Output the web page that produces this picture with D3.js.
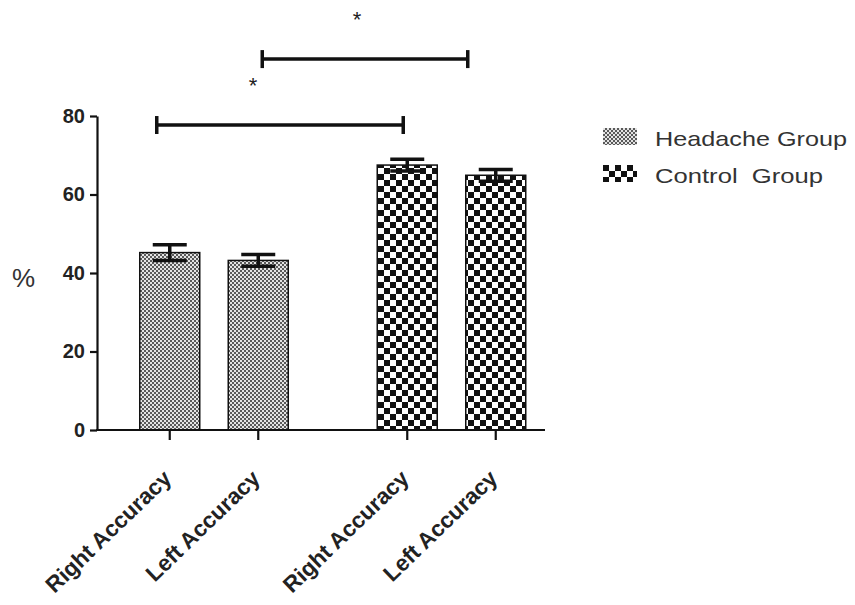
<!DOCTYPE html>
<html>
<head>
<meta charset="utf-8">
<script src="https://cdn.jsdelivr.net/npm/d3@7/dist/d3.min.js"></script>
<style>
  body { margin: 0; background: #fff; }
  text { font-family: "Liberation Sans", Arial, sans-serif; }
</style>
</head>
<body>
<script>
// data
var groups = ['Headache Group', 'Control  Group'];
var measures = ['Right Accuracy', 'Left Accuracy'];
var headacheMeans = [45.2, 43.2];
var headacheErrs = [2.0, 1.5];
var controlMeans = [67.5, 64.9];
var controlErrs = [1.5, 1.5];
var yTicks = [0, 20, 40, 60, 80];
// significance brackets: from bar index to bar index, height in % units
var brackets = [
    {from: 0, to: 2, level: 77.7, label: '*'},
    {from: 1, to: 3, level: 94.5, label: '*'}
];

var bars = [];
groups.forEach(function(g, gi) {
    var means = gi == 0 ? headacheMeans : controlMeans,
        errs = gi == 0 ? headacheErrs : controlErrs;
    measures.forEach(function(m, mi) {
        bars.push({group: g, gi: gi, measure: m, mean: means[mi], err: errs[mi]});
    });
});

var svg = d3.select('body').append('svg')
            .attr('width', 855).attr('height', 605);

var defs = svg.append('defs');
var p1 = defs.append('pattern').attr('id', 'pat0')
             .attr('patternUnits', 'userSpaceOnUse')
             .attr('width', 4).attr('height', 4);
p1.append('rect').attr('width', 4).attr('height', 4).attr('fill', '#5a5a5a');
p1.append('rect').attr('width', 2).attr('height', 2).attr('fill', '#e4e4e4');
p1.append('rect').attr('x', 2).attr('y', 2).attr('width', 2).attr('height', 2).attr('fill', '#e4e4e4');

var p2 = defs.append('pattern').attr('id', 'pat1')
             .attr('patternUnits', 'userSpaceOnUse')
             .attr('width', 12).attr('height', 12);
p2.append('rect').attr('width', 12).attr('height', 12).attr('fill', '#fff');
p2.append('rect').attr('width', 6).attr('height', 6).attr('fill', '#111');
p2.append('rect').attr('x', 6).attr('y', 6).attr('width', 6).attr('height', 6).attr('fill', '#111');

var plotLeft = 97, plotRight = 545;

var y = d3.scaleLinear().domain([0, 80]).range([430, 116]);

var x0 = d3.scaleBand().domain(groups).range([125.5, 540]).paddingInner(0.2547);
var x1 = d3.scaleBand().domain(measures).range([0, x0.bandwidth()])
           .paddingInner(0.322).paddingOuter(0.161);

function barX(d) { return x0(d.group) + x1(d.measure); }
function barC(d) { return barX(d) + x1.bandwidth() / 2; }

// bars
svg.selectAll('rect.bar').data(bars).enter().append('rect')
   .attr('class', 'bar')
   .attr('x', barX)
   .attr('y', function(d) { return y(d.mean); })
   .attr('width', x1.bandwidth())
   .attr('height', function(d) { return y(0) - y(d.mean); })
   .attr('fill', function(d) { return 'url(#pat' + d.gi + ')'; })
   .attr('stroke', '#111')
   .attr('stroke-width', 1.5);

// error bars
var eb = svg.selectAll('g.err').data(bars).enter().append('g')
            .attr('stroke', '#111').attr('stroke-width', 3.5);
eb.append('line')
  .attr('x1', barC).attr('x2', barC)
  .attr('y1', function(d) { return y(d.mean + d.err); })
  .attr('y2', function(d) { return y(d.mean - d.err); });
[1, -1].forEach(function(s) {
    eb.append('line')
      .attr('x1', function(d) { return barC(d) - 17; })
      .attr('x2', function(d) { return barC(d) + 17; })
      .attr('y1', function(d) { return y(d.mean + s * d.err); })
      .attr('y2', function(d) { return y(d.mean + s * d.err); });
});

// axes
var yAxis = d3.axisLeft(y).tickValues(yTicks).tickSize(7).tickPadding(5).tickSizeOuter(0);
var gy = svg.append('g').attr('transform', 'translate(' + plotLeft + ',0)').call(yAxis);
gy.select('.domain').attr('stroke', '#111').attr('stroke-width', 2.2);
gy.selectAll('.tick line').attr('stroke', '#111').attr('stroke-width', 2.2);
gy.selectAll('.tick text').attr('font-size', 20).attr('font-weight', 'bold')
  .attr('fill', '#222').attr('font-family', '"Liberation Sans", Arial, sans-serif');

svg.append('line').attr('x1', plotLeft - 1).attr('x2', plotRight)
   .attr('y1', y(0)).attr('y2', y(0))
   .attr('stroke', '#111').attr('stroke-width', 2.2);

svg.selectAll('line.xtick').data(bars).enter().append('line')
   .attr('x1', barC).attr('x2', barC)
   .attr('y1', y(0)).attr('y2', y(0) + 10)
   .attr('stroke', '#111').attr('stroke-width', 2.2);

svg.selectAll('text.xlab').data(bars).enter().append('text')
   .attr('transform', function(d) {
       return 'translate(' + (barC(d) + 3) + ',' + (y(0) + 50) + ') rotate(-44)';
   })
   .attr('text-anchor', 'end')
   .attr('font-size', 22.5).attr('font-weight', 'bold').attr('fill', '#222')
   .text(function(d) { return d.measure; });

svg.append('text').attr('x', 12).attr('y', 287)
   .attr('font-size', 26).attr('fill', '#333').text('%');

// brackets
var nudge = [[-13, -4], [4, -28]];
var starNudge = [-27, -8];
brackets.forEach(function(b, i) {
    var xa = barC(bars[b.from]) + nudge[i][0],
        xb = barC(bars[b.to]) + nudge[i][1],
        yy = y(b.level);
    var g = svg.append('g').attr('stroke', '#111').attr('stroke-width', 3.5);
    g.append('line').attr('x1', xa).attr('x2', xb).attr('y1', yy).attr('y2', yy);
    g.append('line').attr('x1', xa).attr('x2', xa).attr('y1', yy - 9).attr('y2', yy + 9);
    g.append('line').attr('x1', xb).attr('x2', xb).attr('y1', yy - 9).attr('y2', yy + 9);
    svg.append('text').attr('x', (xa + xb) / 2 + starNudge[i]).attr('y', yy - 32)
       .attr('text-anchor', 'middle').attr('font-size', 22).attr('fill', '#222')
       .text(b.label);
});

// legend
var legend = svg.selectAll('g.leg').data(groups).enter().append('g')
                .attr('transform', function(d, i) { return 'translate(603,' + (128 + i * 37) + ')'; });
legend.append('rect').attr('width', 34).attr('height', 17)
      .attr('fill', function(d, i) { return 'url(#pat' + i + ')'; });
legend.append('text').attr('x', 52).attr('y', 18)
      .attr('font-size', 21).attr('fill', '#333')
      .style('white-space', 'pre')
      .attr('textLength', function(d, i) { return i == 0 ? 192 : 168; })
      .attr('lengthAdjust', 'spacingAndGlyphs')
      .text(function(d) { return d; });
</script>
</body>
</html>
